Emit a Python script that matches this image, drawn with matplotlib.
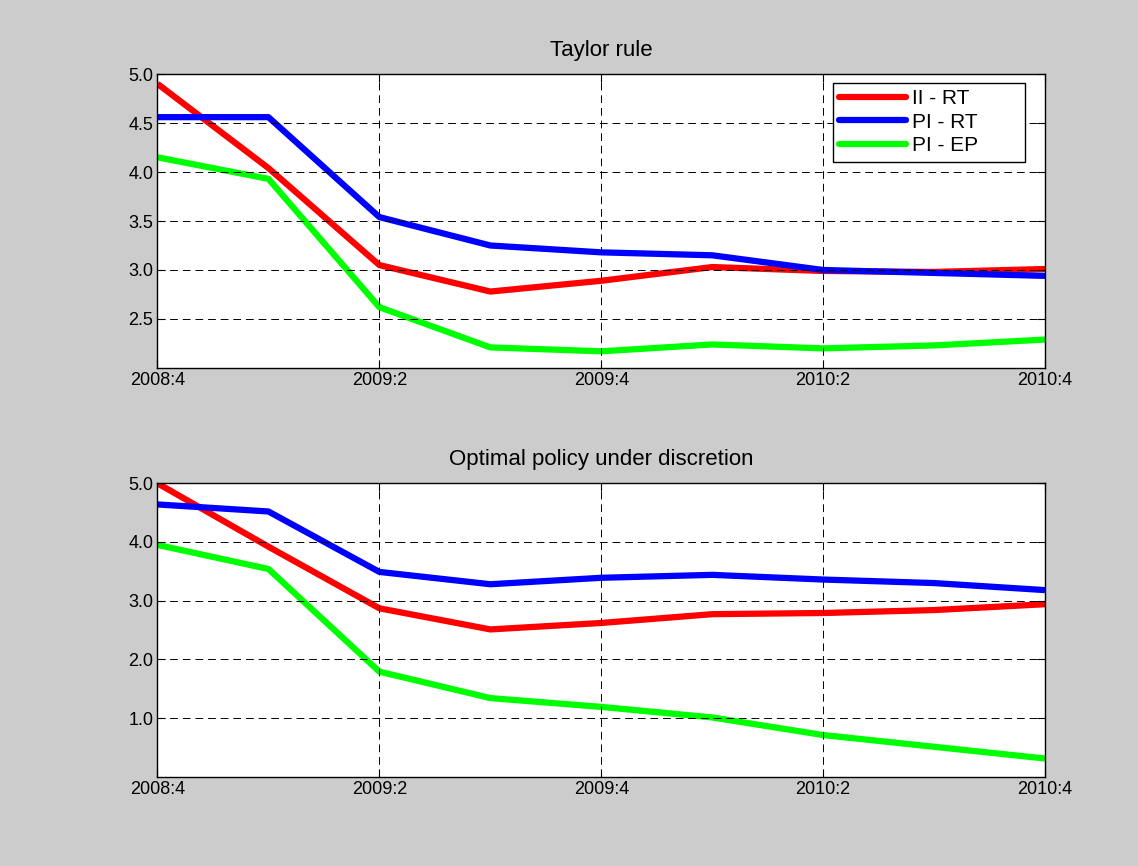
import matplotlib
matplotlib.use("Agg")
import matplotlib.pyplot as plt
import numpy as np

plt.rcParams['font.family'] = ['Liberation Sans', 'DejaVu Sans']

quarters = ["2008:4", "2009:1", "2009:2", "2009:3", "2009:4",
            "2010:1", "2010:2", "2010:3", "2010:4"]

# Taylor rule
taylor_ii_rt = [4.90, 4.04, 3.05, 2.78, 2.89, 3.03, 2.99, 2.98, 3.01]
taylor_pi_rt = [4.56, 4.56, 3.54, 3.25, 3.18, 3.15, 3.00, 2.97, 2.94]
taylor_pi_ep = [4.15, 3.93, 2.62, 2.21, 2.17, 2.24, 2.20, 2.23, 2.29]

# Optimal policy under discretion
disc_ii_rt = [5.00, 3.92, 2.87, 2.51, 2.62, 2.77, 2.79, 2.84, 2.94]
disc_pi_rt = [4.64, 4.52, 3.49, 3.28, 3.39, 3.44, 3.36, 3.30, 3.18]
disc_pi_ep = [3.95, 3.54, 1.79, 1.34, 1.19, 1.01, 0.71, 0.51, 0.31]

labels = ["II - RT", "PI - RT", "PI - EP"]
colors = ["#ff0000", "#0000ff", "#00ff00"]

top_yticks = [2.5, 3.0, 3.5, 4.0, 4.5, 5.0]
bot_yticks = [1.0, 2.0, 3.0, 4.0, 5.0]

fig = plt.figure(figsize=(11.38, 8.66), dpi=100)
fig.patch.set_facecolor("#cccccc")

ax1 = fig.add_axes([0.1384, 0.5751, 0.7799, 0.3394])
ax2 = fig.add_axes([0.1384, 0.1031, 0.7799, 0.3388])

x = np.arange(len(quarters))
fs = 13


def style(ax, title, ylim, yticks):
    ax.set_facecolor("white")
    ax.set_xlim(0, len(quarters) - 1)
    ax.set_ylim(*ylim)
    ax.set_xticks(x[::2])
    ax.set_xticklabels(quarters[::2], fontsize=fs)
    ax.set_yticks(yticks)
    ax.set_yticklabels(["%.1f" % v for v in yticks], fontsize=fs)
    ax.tick_params(direction="in", length=6, width=0.8, top=True, right=True, pad=3)
    ax.grid(True, color="black", linestyle=(0, (8, 5)), linewidth=0.7)
    ax.set_axisbelow(False)
    for s in ax.spines.values():
        s.set_linewidth(1.0)
        s.set_color("black")
    ax.set_title(title, fontsize=16, pad=13)


for ax, series in [(ax1, [taylor_ii_rt, taylor_pi_rt, taylor_pi_ep]),
                   (ax2, [disc_ii_rt, disc_pi_rt, disc_pi_ep])]:
    for y, c, lab in zip(series, colors, labels):
        ax.plot(x, y, color=c, linewidth=4.5, label=lab, solid_capstyle="butt")

style(ax1, "Taylor rule", (2.0, 5.0), top_yticks)
style(ax2, "Optimal policy under discretion", (0.0, 5.0), bot_yticks)

leg = ax1.legend(loc="upper left", bbox_to_anchor=(0.761, 0.0, 0.2163, 0.970),
                 mode="expand", fontsize=15,
                 fancybox=False, framealpha=1, edgecolor="black",
                 handlelength=3.2, handletextpad=0.3, labelspacing=0.22,
                 borderpad=0.3, borderaxespad=0)
leg.get_frame().set_linewidth(1.0)
for l in leg.get_lines():
    l.set_solid_capstyle("round")

fig.savefig("out.png", dpi=100, facecolor=fig.get_facecolor())
